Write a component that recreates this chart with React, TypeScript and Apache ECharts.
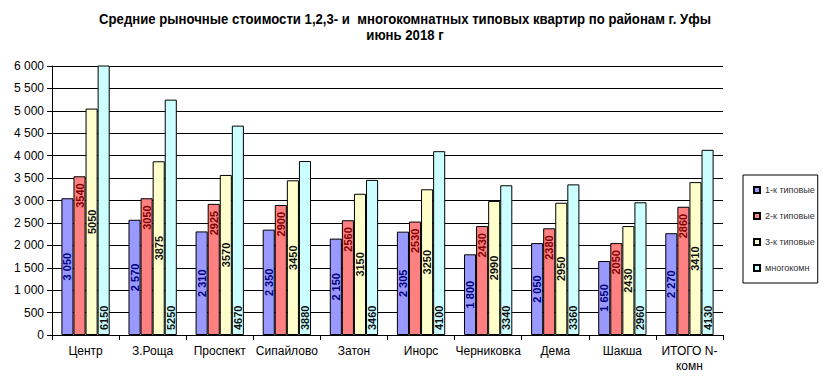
import React, { useEffect, useRef } from "react";
import * as echarts from "echarts";

const categories = ["Центр", "З.Роща", "Проспект", "Сипайлово", "Затон", "Инорс", "Черниковка", "Дема", "Шакша", "ИТОГО N-\nкомн"];
const seriesNames = ["1-к типовые", "2-к типовые", "3-к типовые", "многокомн"];
const s1 = [3050, 2570, 2310, 2350, 2150, 2305, 1800, 2050, 1650, 2270];
const s2 = [3540, 3050, 2925, 2900, 2560, 2530, 2430, 2380, 2050, 2860];
const s3 = [5050, 3875, 3570, 3450, 3150, 3250, 2990, 2950, 2430, 3410];
const s4 = [6150, 5250, 4670, 3880, 3460, 4100, 3340, 3360, 2960, 4130];
const colors = ["#9999FF", "#FF8080", "#FFFFCC", "#CCFFFF"];
const labelColors = ["#000080", "#800000", "#111111", "#111111"];
const titleText = "Средние рыночные стоимости 1,2,3- и  многокомнатных типовых квартир по районам г. Уфы\nиюнь 2018 г";

const fmtSpace = (v: number) => {
  const s = String(Math.round(v));
  return s.replace(/\B(?=(\d{3})+(?!\d))/g, " ");
};

export default function App() {
  const ref = useRef<HTMLDivElement>(null);
  useEffect(() => {
    if (!ref.current) return;
    const chart = echarts.init(ref.current, undefined, { renderer: "svg" });
    const data = [s1, s2, s3, s4];
    const labelPos = ["inside", "insideTop", "inside", "insideBottom"];
    const series = data.map((d, i) => {
      const pos = labelPos[i];
      const label: any = {
        show: true,
        position: pos,
        rotate: 90,
        color: labelColors[i],
        fontFamily: "Liberation Sans, Arial, sans-serif",
        fontWeight: "bold",
        fontSize: 11,
        verticalAlign: "middle",
        align: pos === "insideTop" ? "right" : pos === "insideBottom" ? "left" : "center",
        distance: pos === "insideTop" ? 7 : 5,
        formatter: (p: any) => (i === 0 ? fmtSpace(p.value) : String(p.value)),
      };
      return {
        name: seriesNames[i],
        type: "bar",
        data: d,
        clip: true,
        barGap: "0%",
        barCategoryGap: "28%",
        itemStyle: { color: colors[i], borderColor: "#000", borderWidth: 1 },
        label,
      };
    });
    chart.setOption({
      animation: false,
      backgroundColor: "#fff",
      graphic: [
        {
          type: "text",
          x: 405,
          y: 11,
          scaleX: 0.94,
          style: {
            text: titleText,
            textAlign: "center",
            textVerticalAlign: "top",
            fontFamily: "Liberation Sans, Arial, sans-serif",
            fontWeight: "bold",
            fontSize: 14,
            lineHeight: 16,
            fill: "#000",
          },
        },
      ],
      legend: {
        orient: "vertical",
        left: 743,
        top: 175,
        borderColor: "#000",
        borderWidth: 1,
        padding: [9, 3, 9, 10],
        itemWidth: 6,
        itemHeight: 6,
        itemGap: 14,
        icon: "rect",
        textStyle: { fontFamily: "Liberation Sans, Arial, sans-serif", fontSize: 9, color: "#333", lineHeight: 12 },
        data: seriesNames,
      },
      grid: { left: 52, right: 105, top: 66, bottom: 45, containLabel: false },
      xAxis: {
        type: "category",
        data: categories,
        axisLine: { lineStyle: { color: "#000", width: 1 } },
        axisTick: { show: true, length: 5, lineStyle: { color: "#000" } },
        axisLabel: { color: "#000", fontFamily: "Liberation Sans, Arial, sans-serif", fontSize: 12, margin: 8, lineHeight: 15, interval: 0 },
      },
      yAxis: {
        type: "value",
        min: 0,
        max: 6000,
        interval: 500,
        axisLine: { show: true, lineStyle: { color: "#000", width: 1 } },
        axisTick: { show: true, length: 5, lineStyle: { color: "#000" } },
        axisLabel: { color: "#000", fontFamily: "Liberation Sans, Arial, sans-serif", fontSize: 12, margin: 8, formatter: (v: number) => fmtSpace(v) },
        splitLine: { show: true, lineStyle: { color: "#000", width: 1 } },
      },
      series,
    });
    return () => chart.dispose();
  }, []);
  return <div ref={ref} style={{ width: 828, height: 380, position: "absolute", left: 0, top: 0 }} />;
}
